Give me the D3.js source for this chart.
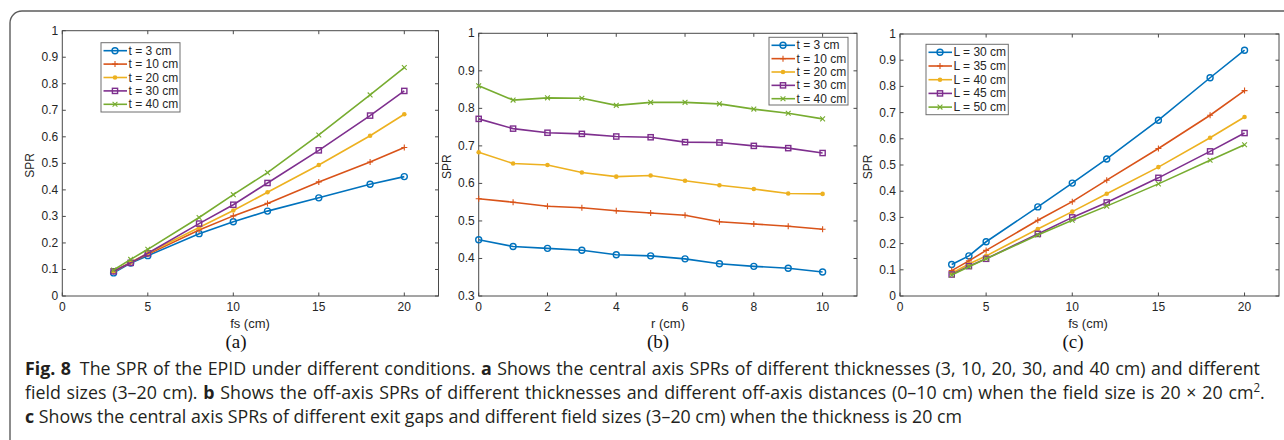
<!DOCTYPE html>
<html>
<head>
<meta charset="utf-8">
<script src="https://cdn.jsdelivr.net/npm/d3@7.9.0/dist/d3.min.js"></script>
<style>
  html, body { margin: 0; padding: 0; background: #fff; }
  svg text { font-family: "Liberation Sans", Arial, sans-serif; }
</style>
</head>
<body>
<svg id="fig" width="1284" height="440"></svg>
<script>
// ---- data ----
const fsValues = [3, 4, 5, 8, 10, 12, 15, 18, 20];
const rValues = [0, 1, 2, 3, 4, 5, 6, 7, 8, 9, 10];

const thicknessLabels = ['t = 3 cm', 't = 10 cm', 't = 20 cm', 't = 30 cm', 't = 40 cm'];
const gapLabels = ['L = 30 cm', 'L = 35 cm', 'L = 40 cm', 'L = 45 cm', 'L = 50 cm'];

// (a) central axis SPR vs field size, per thickness
const aT3  = [0.087, 0.124, 0.152, 0.235, 0.280, 0.320, 0.370, 0.421, 0.450];
const aT10 = [0.092, 0.126, 0.157, 0.249, 0.302, 0.349, 0.430, 0.505, 0.560];
const aT20 = [0.092, 0.127, 0.161, 0.258, 0.322, 0.391, 0.494, 0.604, 0.685];
const aT30 = [0.093, 0.125, 0.161, 0.273, 0.344, 0.426, 0.549, 0.680, 0.773];
const aT40 = [0.098, 0.138, 0.176, 0.296, 0.382, 0.465, 0.607, 0.758, 0.861];

// (b) off-axis SPR vs r, per thickness
const bT3  = [0.450, 0.432, 0.427, 0.422, 0.410, 0.407, 0.399, 0.386, 0.379, 0.374, 0.364];
const bT10 = [0.559, 0.550, 0.539, 0.535, 0.527, 0.521, 0.515, 0.498, 0.492, 0.486, 0.478];
const bT20 = [0.683, 0.653, 0.649, 0.629, 0.618, 0.621, 0.607, 0.595, 0.585, 0.573, 0.572];
const bT30 = [0.772, 0.746, 0.735, 0.732, 0.725, 0.723, 0.710, 0.709, 0.700, 0.694, 0.681];
const bT40 = [0.860, 0.822, 0.828, 0.827, 0.808, 0.816, 0.816, 0.812, 0.798, 0.787, 0.772];

// (c) central axis SPR vs field size, per exit gap
const cL30 = [0.120, 0.153, 0.207, 0.340, 0.431, 0.523, 0.671, 0.833, 0.938];
const cL35 = [0.097, 0.134, 0.174, 0.289, 0.360, 0.442, 0.563, 0.690, 0.784];
const cL40 = [0.087, 0.122, 0.153, 0.256, 0.322, 0.390, 0.492, 0.604, 0.683];
const cL45 = [0.082, 0.114, 0.142, 0.237, 0.300, 0.357, 0.451, 0.552, 0.622];
const cL50 = [0.080, 0.112, 0.142, 0.233, 0.289, 0.343, 0.428, 0.518, 0.577];

const fsTicks = [0, 5, 10, 15, 20];
const rTicks = [0, 2, 4, 6, 8, 10];
const sprTicksFull = d3.range(0, 11).map(d => d / 10);
const sprTicksB = d3.range(3, 11).map(d => d / 10);

const colors = ['#0072BD', '#D95319', '#EDB120', '#7E2F8E', '#77AC30'];
const markers = ['circle', 'plus', 'dot', 'square', 'cross'];

const svg = d3.select('#fig');
const axisColor = '#4a4a4a';
const textColor = '#262626';

// outer frame (runs off the right and bottom edges)
svg.append('rect')
  .attr('x', 10).attr('y', 11)
  .attr('width', 1320).attr('height', 480)
  .attr('rx', 12)
  .attr('fill', 'none')
  .attr('stroke', '#5c5c5c')
  .attr('stroke-width', 1.4);

function drawMarker(g, type, color) {
  if (type === 'circle') {
    g.append('circle').attr('r', 3).attr('fill', 'none')
      .attr('stroke', color).attr('stroke-width', 1.4);
  } else if (type === 'plus') {
    g.append('path').attr('d', 'M-3,0H3M0,-3V3')
      .attr('stroke', color).attr('stroke-width', 1.1);
  } else if (type === 'dot') {
    g.append('circle').attr('r', 2.3).attr('fill', color);
  } else if (type === 'square') {
    g.append('rect').attr('x', -2.6).attr('y', -2.6)
      .attr('width', 5.2).attr('height', 5.2)
      .attr('fill', 'none').attr('stroke', color).attr('stroke-width', 1.4);
  } else {
    g.append('path').attr('d', 'M-2.4,-2.4L2.4,2.4M-2.4,2.4L2.4,-2.4')
      .attr('stroke', color).attr('stroke-width', 1.1);
  }
}

function drawPanel(cfg) {
  const x = d3.scaleLinear().domain(cfg.xDomain).range([cfg.left, cfg.right]);
  const y = d3.scaleLinear().domain(cfg.yDomain).range([cfg.bottom, cfg.top]);
  const g = svg.append('g');
  const tl = 3.5;

  // box
  g.append('rect')
    .attr('x', cfg.left).attr('y', cfg.top)
    .attr('width', cfg.right - cfg.left).attr('height', cfg.bottom - cfg.top)
    .attr('fill', 'none').attr('stroke', axisColor).attr('stroke-width', 1);

  // ticks on all four sides, pointing in
  cfg.xTicks.forEach(t => {
    g.append('path')
      .attr('d', `M${x(t)},${cfg.bottom}V${cfg.bottom - tl}M${x(t)},${cfg.top}V${cfg.top + tl}`)
      .attr('stroke', axisColor).attr('stroke-width', 1);
    g.append('text')
      .attr('x', x(t)).attr('y', cfg.bottom + 15)
      .attr('text-anchor', 'middle')
      .attr('font-size', 12).attr('fill', textColor)
      .text(t);
  });
  cfg.yTicks.forEach(t => {
    g.append('path')
      .attr('d', `M${cfg.left},${y(t)}H${cfg.left + tl}M${cfg.right},${y(t)}H${cfg.right - tl}`)
      .attr('stroke', axisColor).attr('stroke-width', 1);
    g.append('text')
      .attr('x', cfg.left - 4).attr('y', y(t) + 4)
      .attr('text-anchor', 'end')
      .attr('font-size', 12).attr('fill', textColor)
      .text(d3.format('~g')(t));
  });

  // axis labels
  g.append('text')
    .attr('x', cfg.xLabelX).attr('y', cfg.bottom + 32)
    .attr('text-anchor', 'middle')
    .attr('font-size', 13).attr('fill', textColor)
    .text(cfg.xLabel);
  g.append('text')
    .attr('transform', `translate(${cfg.yLabelX},${(cfg.top + cfg.bottom) / 2 + 2}) rotate(-90)`)
    .attr('text-anchor', 'middle')
    .attr('font-size', 12).attr('fill', textColor)
    .text('SPR');

  // sub-figure label
  g.append('text')
    .attr('x', cfg.subX).attr('y', 348)
    .attr('text-anchor', 'middle')
    .style('font-family', '"Liberation Serif", "Times New Roman", serif')
    .attr('font-size', 19).attr('fill', '#111')
    .text(cfg.sub);

  // series
  const line = d3.line().x((d, i) => x(cfg.xs[i])).y(d => y(d));
  cfg.series.forEach((vals, k) => {
    g.append('path')
      .attr('d', line(vals))
      .attr('fill', 'none')
      .attr('stroke', colors[k]).attr('stroke-width', 1.6);
    vals.forEach((v, i) => {
      const m = g.append('g').attr('transform', `translate(${x(cfg.xs[i])},${y(v)})`);
      drawMarker(m, markers[k], colors[k]);
    });
  });

  // legend
  const L = cfg.legend;
  const lg = g.append('g');
  lg.append('rect')
    .attr('x', L.x).attr('y', L.y).attr('width', L.w).attr('height', L.h)
    .attr('fill', '#fff').attr('stroke', '#6e6e6e').attr('stroke-width', 1);
  cfg.labels.forEach((lab, k) => {
    const cy = L.y + 8 + k * L.step;
    lg.append('path')
      .attr('d', `M${L.x + 2.5},${cy}H${L.x + 26}`)
      .attr('stroke', colors[k]).attr('stroke-width', 1.6);
    const m = lg.append('g').attr('transform', `translate(${L.x + 14},${cy})`);
    drawMarker(m, markers[k], colors[k]);
    lg.append('text')
      .attr('x', L.x + 27.5).attr('y', cy + 4)
      .attr('font-size', 12).attr('fill', textColor)
      .text(lab);
  });
}

drawPanel({
  left: 62.3, right: 438.5, top: 30.7, bottom: 296,
  xDomain: [0, 22], yDomain: [0, 1],
  xTicks: fsTicks, yTicks: sprTicksFull,
  xs: fsValues, series: [aT3, aT10, aT20, aT30, aT40], labels: thicknessLabels,
  xLabel: 'fs (cm)', xLabelX: 250, yLabelX: 34,
  sub: '(a)', subX: 236,
  legend: { x: 101, y: 42.7, w: 79, h: 69.3, step: 13.4 }
});

drawPanel({
  left: 478.7, right: 857, top: 33.3, bottom: 296,
  xDomain: [0, 11], yDomain: [0.3, 1],
  xTicks: rTicks, yTicks: sprTicksB,
  xs: rValues, series: [bT3, bT10, bT20, bT30, bT40], labels: thicknessLabels,
  xLabel: 'r (cm)', xLabelX: 668, yLabelX: 451,
  sub: '(b)', subX: 658,
  legend: { x: 769, y: 37.3, w: 79, h: 67.7, step: 13.35 }
});

drawPanel({
  left: 900, right: 1279, top: 34, bottom: 296,
  xDomain: [0, 22], yDomain: [0, 1],
  xTicks: fsTicks, yTicks: sprTicksFull,
  xs: fsValues, series: [cL30, cL35, cL40, cL45, cL50], labels: gapLabels,
  xLabel: 'fs (cm)', xLabelX: 1088, yLabelX: 872,
  sub: '(c)', subX: 1073,
  legend: { x: 926, y: 44.3, w: 82.3, h: 70.4, step: 13.7 }
});

// ---- caption (justified paragraph, last line ragged) ----
const capFont = '"Open Sans", "Noto Sans", sans-serif';
const capLines = [
  { y: 375, len: 1237, justify: true, parts: [
    { t: 'Fig. 8', b: true },
    { t: '\u2002The SPR of the EPID under different conditions. ' },
    { t: 'a', b: true },
    { t: ' Shows the central axis SPRs of different thicknesses (3, 10, 20, 30, and 40 cm) and different' }
  ]},
  { y: 399, len: 1241, justify: true, parts: [
    { t: 'field sizes (3\u201320 cm). ' },
    { t: 'b', b: true },
    { t: ' Shows the off-axis SPRs of different thicknesses and different off-axis distances (0\u201310 cm) when the field size is 20 \u00d7 20 cm' },
    { t: '2', sup: true },
    { t: '.', down: true }
  ]},
  { y: 423, len: 938, justify: false, parts: [
    { t: 'c', b: true },
    { t: ' Shows the central axis SPRs of different exit gaps and different field sizes (3\u201320 cm) when the thickness is 20 cm' }
  ]}
];

const capNodes = capLines.map(ln => {
  const t = svg.append('text')
    .attr('x', 0).attr('y', 0)
    .style('font-family', capFont)
    .attr('font-size', 18.5)
    .attr('fill', '#231f20');
  ln.parts.forEach(p => {
    const s = t.append('tspan').text(p.t);
    if (p.b) s.attr('font-weight', 700);
    if (p.sup) s.attr('dy', -7).attr('font-size', 12);
    if (p.down) s.attr('dy', 7);
  });
  return t;
});

// horizontal squeeze taken from the unjustified last line
const lastIdx = capLines.length - 1;
const sx = capLines[lastIdx].len / capNodes[lastIdx].node().getComputedTextLength();

capLines.forEach((ln, i) => {
  const t = capNodes[i];
  if (ln.justify) {
    const nat = t.node().getComputedTextLength();
    const spaces = ln.parts.map(p => p.t).join('').split(/[ \u2002]/).length - 1;
    t.style('word-spacing', `${(ln.len / sx - nat) / spaces}px`);
  }
  t.attr('transform', `translate(25,${ln.y}) scale(${sx},1)`);
});
</script>
</body>
</html>
